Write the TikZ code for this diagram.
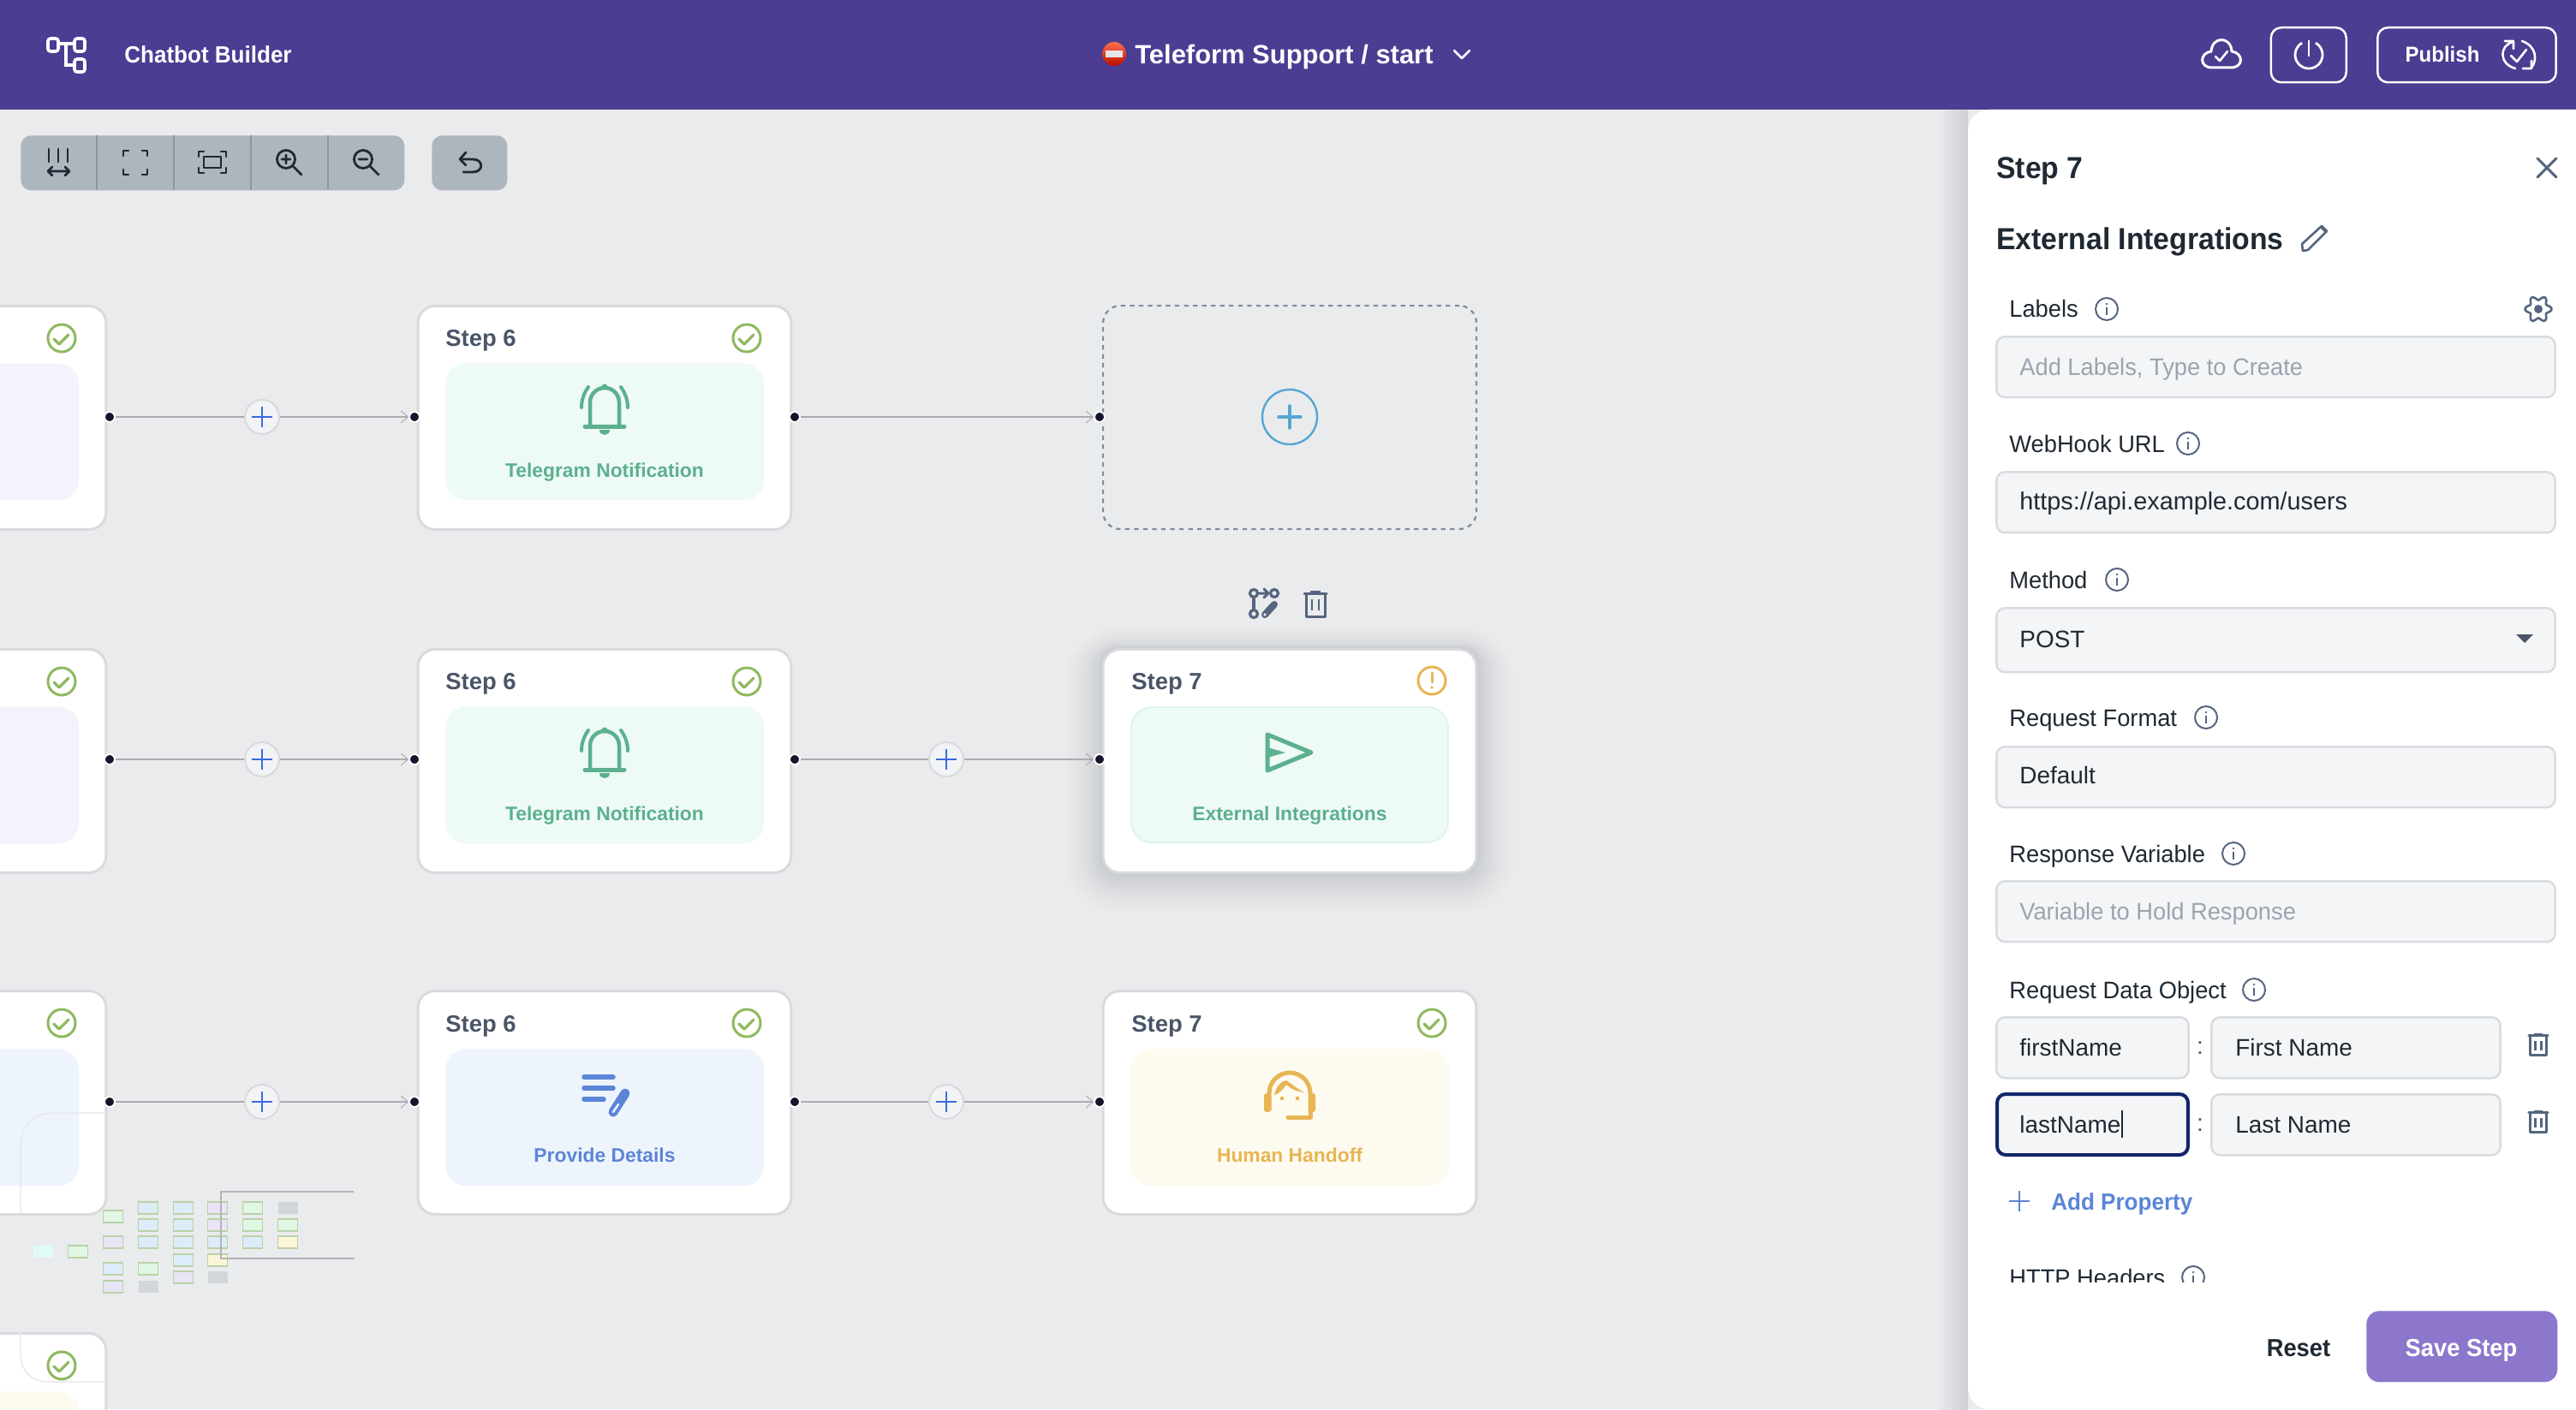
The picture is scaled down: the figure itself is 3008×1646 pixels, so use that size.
\documentclass[tikz,border=0pt]{standalone}
\usepackage{fontspec}
\setmainfont{Liberation Sans}
\newfontfamily\tightfont[FakeStretch=0.95]{Liberation Sans}
\newfontfamily\formfont[FakeStretch=0.977]{Liberation Sans}
\usetikzlibrary{arrows.meta}
\definecolor{headbg}{HTML}{4C3C92}
\definecolor{pagebg}{HTML}{EAEBED}
\definecolor{cardedge}{HTML}{D8DADE}
\definecolor{slate}{HTML}{4A5568}
\definecolor{ink}{HTML}{1F2933}
\definecolor{toolbg}{HTML}{ADB5BD}
\definecolor{tooldiv}{HTML}{8A97A5}
\definecolor{linkgrey}{HTML}{ABACB0}
\definecolor{dotblack}{HTML}{14142B}
\definecolor{okgreen}{HTML}{8FB95F}
\definecolor{warnyellow}{HTML}{E8B554}
\definecolor{mintink}{HTML}{5CB08F}
\definecolor{mintbg}{HTML}{EEFAF5}
\definecolor{mintedge}{HTML}{DDF5EA}
\definecolor{blueink}{HTML}{5B85D6}
\definecolor{bluebg}{HTML}{EEF4FC}
\definecolor{yellowbg}{HTML}{FDFBEF}
\definecolor{lavbg}{HTML}{F4F3FD}
\definecolor{plusblue}{HTML}{3B6BE0}
\definecolor{skyink}{HTML}{56A5D3}
\definecolor{fieldbg}{HTML}{F4F5F7}
\definecolor{fieldedge}{HTML}{D8DBDF}
\definecolor{focusnavy}{HTML}{12256B}
\definecolor{hintgrey}{HTML}{9CA3AF}
\definecolor{iconslate}{HTML}{55657F}
\definecolor{savebg}{HTML}{8C77CC}
\definecolor{mapblue}{HTML}{DCECF8}
\definecolor{mapgreen}{HTML}{DFF7E3}
\definecolor{mappurple}{HTML}{EAE4F7}
\definecolor{mapyellow}{HTML}{FCF6D8}
\definecolor{mapgrey}{HTML}{D3D6D9}
\definecolor{mapcyan}{HTML}{DFFBF8}
\definecolor{mapedge}{HTML}{B9D2A6}
\tikzset{
	px/.style={line width=#1*0.02cm},
	txt/.style={inner sep=0, anchor=base west, text=ink, font=\fontsize{15.9}{19}\selectfont},
	lbl/.style={txt, font=\fontsize{15.9}{19}\selectfont\formfont},
	hint/.style={lbl, text=hintgrey},
	headtxt/.style={inner sep=0, anchor=base west, text=white, font=\fontsize{15.6}{19}\selectfont\tightfont\bfseries},
	steptxt/.style={inner sep=0, anchor=base west, text=slate, font=\fontsize{15.6}{19}\selectfont\bfseries},
	cardtxt/.style={inner sep=0, anchor=base, font=\fontsize{13}{16}\selectfont\bfseries},
	cardbox/.style={rectangle, rounded corners=0.4cm, draw=cardedge, px=3, fill=white, minimum width=8.72cm, minimum height=5.22cm, anchor=north west, inner sep=0},
	innerbox/.style={rectangle, rounded corners=0.48cm, minimum width=7.44cm, minimum height=3.2cm, anchor=north west, inner sep=0},
	fieldbox/.style={rectangle, rounded corners=0.2cm, draw=fieldedge, px=2.5, fill=fieldbg, minimum height=1.42cm, anchor=north west, inner sep=0},
	toolbox/.style={rectangle, rounded corners=0.24cm, fill=toolbg, minimum height=1.28cm, anchor=north west, inner sep=0},
	headbtn/.style={rectangle, rounded corners=0.24cm, draw=white, px=2.5, minimum height=1.28cm, anchor=north west, inner sep=0},
	handle/.style={circle, fill=dotblack, draw=white, px=2, minimum size=0.24cm, inner sep=0},
	plusbtn/.style={circle, fill=pagebg!60!white, draw=cardedge, px=2, minimum size=0.8cm, inner sep=0},
	link/.style={draw=linkgrey, px=2},
	linkto/.style={link, -{Straight Barb[length=0.16cm, width=0.28cm, line width=0.02cm]}},
	toolline/.style={draw=ink, px=2.8, line cap=round, line join=round},
	mapline/.style={draw=#1, fill=none, px=1.5},
}
\def\plusmark[#1](#2,#3)(#4){\draw[#1] ({#2-#4},#3) -- ({#2+#4},#3) ({#2},{#3-#4}) -- ({#2},{#3+#4});}
\def\okicon(#1,#2){\begin{scope}[shift={(#1,#2)}]
	\draw[okgreen, px=3] (0,0) circle (16);
	\draw[okgreen, px=3.2, line cap=round, line join=round] (-9,1) -- (-3,7) -- (8,-4);
\end{scope}}
\def\infoicon(#1,#2){\begin{scope}[shift={(#1,#2)}]
	\draw[iconslate, px=2] (0,0) circle (13);
	\draw[iconslate, px=2] (0,-2) -- (0,7);
	\fill[iconslate] (0,-6) circle (1.3);
\end{scope}}
\def\trashicon(#1,#2,#3){\begin{scope}[shift={(#1,#2)}, scale=#3]
	\draw[iconslate, px=3, line join=round] (-11,-12) -- (-11,15) -- (11,15) -- (11,-12);
	\draw[iconslate, px=3, line cap=round] (-13,-12) -- (13,-12);
	\draw[iconslate, px=3] (-6,-14) -- (6,-14);
	\draw[iconslate, px=2.6] (-4,-5) -- (-4,8) (4,-5) -- (4,8);
\end{scope}}
\def\bellicon(#1,#2){\begin{scope}[shift={(#1,#2)}]
	\draw[mintink, px=4.5] (-17,18) -- (-17,-9) arc[start angle=180, end angle=360, radius=17] -- (17,18);
	\fill[mintink] (0,-27) circle (3.5);
	\draw[mintink, px=5, line cap=round] (-23,19) -- (23,19);
	\fill[mintink] (-6,23) -- (6,23) .. controls (6,31) and (-6,31) .. (-6,23);
	\draw[mintink, px=4, line cap=round] (-27,-3) .. controls (-27,-12) and (-24,-20) .. (-19,-27);
	\draw[mintink, px=4, line cap=round] (27,-3) .. controls (27,-12) and (24,-20) .. (19,-27);
\end{scope}}

\begin{document}
\begin{tikzpicture}[x=0.02cm, y=-0.02cm]
	%%%%% START %%%%%
	\useasboundingbox (0,0) rectangle (3008,1646);
	\clip (0,0) rectangle (3008,1646);
	\fill[pagebg] (0,0) rectangle (3008,1646);

	% left cards, cut by the page edge
	\node (carda) [cardbox] at (-313.5,356) {};
	\node (cardb) [cardbox] at (-313.5,757) {};
	\node (cardc) [cardbox] at (-313.5,1156) {};
	\node (cardd) [cardbox] at (-313.5,1556) {};
	\node (panela) [innerbox, fill=lavbg] at (-280,424) {};
	\node (panelb) [innerbox, fill=lavbg] at (-280,825) {};
	\node (panelc) [innerbox, fill=bluebg] at (-280,1225) {};
	\node (paneld) [innerbox, fill=yellowbg] at (-280,1625) {};
	\okicon(72,395)
	\okicon(72,796)
	\okicon(72,1195)
	\okicon(72,1595)

	% step 6 cards
	\node (sixa) [cardbox] at (486.5,356) {};
	\node (sixb) [cardbox] at (486.5,757) {};
	\node (sixc) [cardbox] at (486.5,1156) {};
	\node (panelsixa) [innerbox, fill=mintbg] at (520,424) {};
	\node (panelsixb) [innerbox, fill=mintbg] at (520,825) {};
	\node (panelsixc) [innerbox, fill=bluebg] at (520,1225) {};
	\node (stepsixa) [steptxt] at (520,404) {Step 6};
	\node (stepsixb) [steptxt] at (520,805) {Step 6};
	\node (stepsixc) [steptxt] at (520,1205) {Step 6};
	\okicon(872,395)
	\okicon(872,796)
	\okicon(872,1195)
	\bellicon(706,479)
	\bellicon(706,880)
	\node (namesixa) [cardtxt, text=mintink] at (706,557) {Telegram Notification};
	\node (namesixb) [cardtxt, text=mintink] at (706,958) {Telegram Notification};
	\node (namesixc) [cardtxt, text=blueink] at (706,1357) {Provide Details};
	% list and pen
	\draw[blueink, px=5.5, line cap=round] (682,1258) -- (716,1258) (682,1271) -- (716,1271) (682,1284) -- (705,1284);
	\draw[blueink, px=11, line cap=round] (716,1299) -- (730,1277);
	\draw[bluebg, px=2.5, line cap=round] (716,1299) -- (722,1290);

	% empty slot
	\node (slot) [rectangle, rounded corners=0.4cm, draw=iconslate!75, px=2.2, dashed, minimum width=8.72cm, minimum height=5.22cm, anchor=north west, inner sep=0] at (1287,356) {};
	\node (slotplus) [circle, draw=skyink, px=2.4, minimum size=1.28cm, inner sep=0] at (1506,487) {};
	\plusmark[skyink, px=3.4, line cap=round](1506,487)(13)

	% selected step 7, with its shadow
	\fill[slate, opacity=.012, rounded corners=1.2cm] (1244,733) rectangle (1768,1066);
	\fill[slate, opacity=.015, rounded corners=1.1cm] (1250,737) rectangle (1762,1060);
	\fill[slate, opacity=.018, rounded corners=1cm] (1256,741) rectangle (1756,1054);
	\fill[slate, opacity=.02, rounded corners=0.9cm] (1262,745) rectangle (1750,1048);
	\fill[slate, opacity=.022, rounded corners=0.8cm] (1267,748) rectangle (1745,1043);
	\fill[slate, opacity=.025, rounded corners=0.7cm] (1272,751) rectangle (1740,1038);
	\fill[slate, opacity=.028, rounded corners=0.6cm] (1277,753) rectangle (1735,1033);
	\fill[slate, opacity=.03, rounded corners=0.5cm] (1282,755) rectangle (1730,1028);
	\fill[slate, opacity=.035, rounded corners=0.45cm] (1285,756) rectangle (1727,1023);
	\node (sevenb) [cardbox] at (1286.5,757) {};
	\node (panelsevenb) [innerbox, fill=mintbg, draw=mintedge, px=2, minimum width=7.4cm, minimum height=3.16cm] at (1320,825) {};
	\node (stepsevenb) [steptxt] at (1321,805) {Step 7};
	\node (namesevenb) [cardtxt, text=mintink] at (1506,958) {External Integrations};
	\draw[warnyellow, px=3] (1672,795) circle (16);
	\draw[warnyellow, px=3, line cap=round] (1672,786) -- (1672,797);
	\fill[warnyellow] (1672,803) circle (1.8);
	\draw[mintink, px=5, line join=round] (1480,858) -- (1531,879) -- (1480,900) -- cycle;
	\fill[mintink] (1480,873) -- (1501,879) -- (1480,885) -- cycle;

	% step 7 of the last row
	\node (sevenc) [cardbox] at (1286.5,1156) {};
	\node (panelsevenc) [innerbox, fill=yellowbg] at (1320,1225) {};
	\node (stepsevenc) [steptxt] at (1321,1205) {Step 7};
	\okicon(1672,1195)
	\node (namesevenc) [cardtxt, text=warnyellow] at (1506,1357) {Human Handoff};
	\begin{scope}[shift={(1506,1280)}]
		\draw[warnyellow, px=5] (-24,17) -- (-24,-3) arc[start angle=180, end angle=360, radius=24] -- (24,20);
		\fill[warnyellow, rounded corners=0.06cm] (-30,-3) rectangle (-22,19) (22,-3) rectangle (30,19);
		\draw[warnyellow, px=5, line cap=round, line join=round] (24,20) -- (24,25) -- (-2,25);
		\fill[warnyellow] (-18,-1) .. controls (-16,-11) and (-10,-17) .. (-4,-18) .. controls (2,-14) and (9,-8) .. (17,-4) .. controls (8,-5) and (1,-8) .. (-4,-13) .. controls (-7,-8) and (-12,-3) .. (-18,-1);
		\fill[warnyellow] (-9,3) circle (2.3) (9,3) circle (2.3);
	\end{scope}

	% icons above the selected card
	\draw[iconslate, px=3.2] (1464,693) circle (4.5) (1488,693) circle (4.5) (1464,717) circle (4.5);
	\draw[iconslate, px=3.2] (1464,698) -- (1464,712);
	\draw[iconslate, px=3, line cap=round, line join=round] (1470,693) -- (1481,693) (1476,688) -- (1481,693) -- (1476,698);
	\draw[iconslate, px=8, line cap=round] (1477,718) -- (1488,706);
	\fill[pagebg] (1477,718) circle (1.8);
	\trashicon(1536,705,1)

	% handles
	\node (outa) [handle] at (128,487) {};
	\node (ina) [handle] at (484,487) {};
	\node (outb) [handle] at (128,887) {};
	\node (inb) [handle] at (484,887) {};
	\node (outc) [handle] at (128,1287) {};
	\node (inc) [handle] at (484,1287) {};
	\node (outsixa) [handle] at (928,487) {};
	\node (inslot) [handle] at (1284,487) {};
	\node (outsixb) [handle] at (928,887) {};
	\node (insevenb) [handle] at (1284,887) {};
	\node (outsixc) [handle] at (928,1287) {};
	\node (insevenc) [handle] at (1284,1287) {};
	\node (plusa) [plusbtn] at (306,487) {};
	\node (plusb) [plusbtn] at (306,887) {};
	\node (plusc) [plusbtn] at (306,1287) {};
	\node (plusd) [plusbtn] at (1105,887) {};
	\node (pluse) [plusbtn] at (1105,1287) {};
	\plusmark[plusblue, px=2.6](306,487)(12)
	\plusmark[plusblue, px=2.6](306,887)(12)
	\plusmark[plusblue, px=2.6](306,1287)(12)
	\plusmark[plusblue, px=2.6](1105,887)(12)
	\plusmark[plusblue, px=2.6](1105,1287)(12)

	% connectors
	\draw[link] (outa) -- (plusa);
	\draw[linkto] (plusa) -- (ina);
	\draw[link] (outb) -- (plusb);
	\draw[linkto] (plusb) -- (inb);
	\draw[link] (outc) -- (plusc);
	\draw[linkto] (plusc) -- (inc);
	\draw[linkto] (outsixa) -- (inslot);
	\draw[link] (outsixb) -- (plusd);
	\draw[linkto] (plusd) -- (insevenb);
	\draw[link] (outsixc) -- (pluse);
	\draw[linkto] (pluse) -- (insevenc);

	% faint lines and the small map
	\draw[mapline=cardedge!60] (125,1300) -- (61,1300) .. controls (38,1300) and (24,1315) .. (24,1340) -- (24,1418);
	\draw[mapline=cardedge!60] (24,1556) -- (24,1582) .. controls (24,1602) and (38,1614) .. (55,1614) -- (125,1614);
	\fill[mapcyan] (38.5,1455) rectangle (61.5,1469);
	\fill[mapgrey] (324.5,1404) rectangle (347.5,1418);
	\fill[mapgrey] (161.5,1496) rectangle (184.5,1510);
	\fill[mapgrey] (242.5,1485) rectangle (265.5,1499);
	\begin{scope}[draw=mapedge, px=1.5]
		\draw[fill=mapgreen] (79.5,1455) rectangle (102.5,1469);
		\draw[fill=mapgreen] (120.5,1414) rectangle (143.5,1428);
		\draw[fill=mappurple] (120.5,1444) rectangle (143.5,1458);
		\draw[fill=mapblue] (120.5,1475) rectangle (143.5,1489);
		\draw[fill=mappurple] (120.5,1496) rectangle (143.5,1510);
		\draw[fill=mapblue] (161.5,1404) rectangle (184.5,1418);
		\draw[fill=mapblue] (161.5,1424) rectangle (184.5,1438);
		\draw[fill=mapblue] (161.5,1444) rectangle (184.5,1458);
		\draw[fill=mapgreen] (161.5,1475) rectangle (184.5,1489);
		\draw[fill=mapblue] (202.5,1404) rectangle (225.5,1418);
		\draw[fill=mapblue] (202.5,1424) rectangle (225.5,1438);
		\draw[fill=mapblue] (202.5,1444) rectangle (225.5,1458);
		\draw[fill=mapblue] (202.5,1465) rectangle (225.5,1479);
		\draw[fill=mappurple] (202.5,1485) rectangle (225.5,1499);
		\draw[fill=mappurple] (242.5,1404) rectangle (265.5,1418);
		\draw[fill=mappurple] (242.5,1424) rectangle (265.5,1438);
		\draw[fill=mapblue] (242.5,1444) rectangle (265.5,1458);
		\draw[fill=mapyellow] (242.5,1465) rectangle (265.5,1479);
		\draw[fill=mapgreen] (283.5,1404) rectangle (306.5,1418);
		\draw[fill=mapgreen] (283.5,1424) rectangle (306.5,1438);
		\draw[fill=mapblue] (283.5,1444) rectangle (306.5,1458);
		\draw[fill=mapgreen] (324.5,1424) rectangle (347.5,1438);
		\draw[fill=mapyellow] (324.5,1444) rectangle (347.5,1458);
	\end{scope}
	\draw[mapline=linkgrey!90] (413,1392) -- (258,1392) -- (258,1470) -- (414,1470);

	% toolbar
	\node (tools) [toolbox, minimum width=8.96cm] at (24,158) {};
	\node (undo) [toolbox, minimum width=1.76cm] at (504,158) {};
	\draw[tooldiv, px=1.6] (113,158) -- (113,222) (203,158) -- (203,222) (293,158) -- (293,222) (383,158) -- (383,222);
	\draw[toolline] (57,174) -- (57,189) (68,174) -- (68,189) (79,174) -- (79,189);
	\draw[toolline] (56,200) -- (81,200) (61,195) -- (56,200) -- (61,205) (76,195) -- (81,200) -- (76,205);
	\draw[toolline] (144,182) -- (144,176) -- (150,176) (166,176) -- (172,176) -- (172,182) (172,198) -- (172,204) -- (166,204) (150,204) -- (144,204) -- (144,198);
	\draw[toolline] (232,183) -- (232,177) -- (238,177) (258,177) -- (264,177) -- (264,183) (264,196) -- (264,202) -- (258,202) (238,202) -- (232,202) -- (232,196);
	\draw[toolline] (238,183) rectangle (258,196);
	\draw[toolline] (334,186) circle (10.5);
	\draw[toolline] (342,194) -- (352,204) (329,186) -- (339,186) (334,181) -- (334,191);
	\draw[toolline] (424,186) circle (10.5);
	\draw[toolline] (432,194) -- (442,204) (419,186) -- (429,186);
	\draw[toolline] (544,178) -- (537,186) -- (544,193) (537,186) -- (552,186) .. controls (565,186) and (565,201) .. (552,201) -- (541,201);

	% shadow of the side panel, under the top bar
	\shade[left color=pagebg, right color=cardedge!95!black] (2262,128) rectangle (2298,1646);

	% top bar
	\fill[headbg] (0,0) rectangle (3008,128);
	\draw[white, px=3.6, rounded corners=0.06cm] (56,45) rectangle (68,60) (87,45) rectangle (99,60) (87,69) rectangle (99,84);
	\draw[white, px=3.6] (68,51) -- (87,51) (77,51) -- (77,76) -- (87,76);
	\node (brand) [headtxt] at (145,74) {Chatbot Builder};
	\shade[top color=red!60!orange!70!white, bottom color=red!70!black!90!orange] (1301,63) circle (14);
	\fill[white!90!black] (1291,59) rectangle (1311,67);
	\node (title) [headtxt, font=\fontsize{17.6}{21}\selectfont\bfseries] at (1325,75) {Teleform Support / start};
	\draw[white, px=2.6, line cap=round, line join=round] (1698,59) -- (1707,68) -- (1716,59);
	\draw[white, px=3, line join=round] (2583,79) .. controls (2568,79) and (2568,62) .. (2582,60) .. controls (2583,42) and (2605,42) .. (2606,60) .. controls (2620,62) and (2620,79) .. (2605,79) -- cycle;
	\draw[white, px=2.6, line cap=round, line join=round] (2587,66) -- (2592,71) -- (2601,60);
	\node (power) [headbtn, minimum width=1.76cm] at (2650.5,31) {};
	\draw[white, px=2.8] (2696,64) ++(-60:16) arc[start angle=-60, end angle=240, radius=16];
	\draw[white, px=2.8] (2696,47) -- (2696,66);
	\node (publish) [headbtn, minimum width=4.17cm] at (2775,31) {};
	\node (publishtxt) [headtxt, anchor=base, font=\fontsize{14.4}{18}\selectfont\tightfont\bfseries] at (2852,73) {Publish};
	\begin{scope}[shift={(2940,64)}]
		\draw[white, px=2.6, line join=round, line cap=round] (-6,-15) .. controls (-21,-11) and (-23,10) .. (-3,16);
		\draw[white, px=2.6, line join=round, line cap=round] (5,-16) .. controls (22,-10) and (23,6) .. (16,15);
		\draw[white, px=2.6, line join=round, line cap=round] (-15,-16) -- (-5,-16) -- (-5,-7) (6,16) -- (16,16) -- (16,7) (-8,1) -- (-1,8) -- (10,-6);
	\end{scope}

	% side panel
	\fill[white, rounded corners=0.5cm] (2298,128) rectangle (3100,1646);
	\node (paneltitle) [txt, font=\fontsize{20.2}{24}\selectfont\tightfont\bfseries] at (2331,208) {Step 7};
	\node (panelname) [txt, font=\fontsize{20.2}{24}\selectfont\tightfont\bfseries] at (2331,291) {External Integrations};
	\draw[iconslate, px=3, line cap=round] (2963,185) -- (2985,207) (2985,185) -- (2963,207);
	\draw[iconslate, px=2.6, line join=round] (2689,293) -- (2688,285) -- (2711,264) -- (2717,270) -- (2695,292) -- cycle;
	\fill[iconslate] (2709,266) -- (2711,264) -- (2717,270) -- (2715,272) -- cycle;

	% form
	\node (lbllabels) [lbl] at (2346,370) {Labels};
	\infoicon(2460,361)
	\draw[iconslate, px=2.6, smooth, samples=73, domain=0:360] plot ({2964+(13+2.5*cos(6*\x))*cos(\x)},{361+(13+2.5*cos(6*\x))*sin(\x)});
	\fill[iconslate] (2964,361) circle (5);
	\node (fieldlabels) [fieldbox, minimum width=13.05cm] at (2330,392) {};
	\node (txtlabels) [hint] at (2358,438) {Add Labels, Type to Create};

	\node (lblhook) [lbl] at (2346,528) {WebHook URL};
	\infoicon(2555,518)
	\node (fieldhook) [fieldbox, minimum width=13.05cm] at (2330,550) {};
	\node (txthook) [txt, font=\fontsize{16.4}{19}\selectfont] at (2358,595) {https://api.example.com/users};

	\node (lblmethod) [lbl] at (2346,687) {Method};
	\infoicon(2472,677)
	\node (fieldmethod) [fieldbox, minimum width=13.05cm, minimum height=1.5cm] at (2330,709) {};
	\node (txtmethod) [txt] at (2358,756) {POST};
	\fill[slate] (2938,741) -- (2958,741) -- (2948,751) -- cycle;

	\node (lblformat) [lbl] at (2346,848) {Request Format};
	\infoicon(2576,838)
	\node (fieldformat) [fieldbox, minimum width=13.05cm] at (2330,871) {};
	\node (txtformat) [txt] at (2358,915) {Default};

	\node (lblresp) [lbl] at (2346,1007) {Response Variable};
	\infoicon(2608,997)
	\node (fieldresp) [fieldbox, minimum width=13.05cm] at (2330,1028) {};
	\node (txtresp) [hint] at (2358,1074) {Variable to Hold Response};

	\node (lbldata) [lbl] at (2346,1166) {Request Data Object};
	\infoicon(2632,1156)
	\node (fieldkeya) [fieldbox, minimum width=4.49cm] at (2330,1187) {};
	\node (fieldvala) [fieldbox, minimum width=6.75cm] at (2581,1187) {};
	\node (txtkeya) [txt] at (2358,1233) {firstName};
	\node (colona) [txt, anchor=base, text=slate] at (2569,1231) {:};
	\node (txtvala) [txt] at (2610,1233) {First Name};
	\trashicon(2964,1220,0.85)
	\node (fieldkeyb) [fieldbox, minimum width=4.46cm, draw=focusnavy, px=4] at (2330,1276) {};
	\node (fieldvalb) [fieldbox, minimum width=6.75cm] at (2581,1277) {};
	\node (txtkeyb) [txt] at (2358,1323) {lastName};
	\draw[ink, px=2] (2478,1297) -- (2478,1329);
	\node (colonb) [txt, anchor=base, text=slate] at (2569,1321) {:};
	\node (txtvalb) [txt] at (2610,1323) {Last Name};
	\trashicon(2964,1310,0.85)
	\plusmark[blueink, px=2.6](2358,1403)(12)
	\node (addprop) [txt, text=blueink, font=\fontsize{15.6}{19}\selectfont\tightfont\bfseries] at (2395,1413) {Add Property};
	\node (lblhttp) [lbl] at (2346,1502) {HTTP Headers};
	\infoicon(2561,1492)
	\fill[white] (2330,1498) rectangle (2700,1525);

	% buttons
	\node (reset) [txt, anchor=base, font=\fontsize{16.4}{20}\selectfont\tightfont\bfseries] at (2684,1584) {Reset};
	\node (save) [rectangle, rounded corners=0.3cm, fill=savebg, minimum width=4.46cm, minimum height=1.66cm, anchor=north west, inner sep=0] at (2763,1531) {};
	\node (savetxt) [txt, anchor=base, text=white, font=\fontsize{16.4}{20}\selectfont\tightfont\bfseries] at (2874,1584) {Save Step};
	%%%%% END %%%%%
\end{tikzpicture}
\end{document}
